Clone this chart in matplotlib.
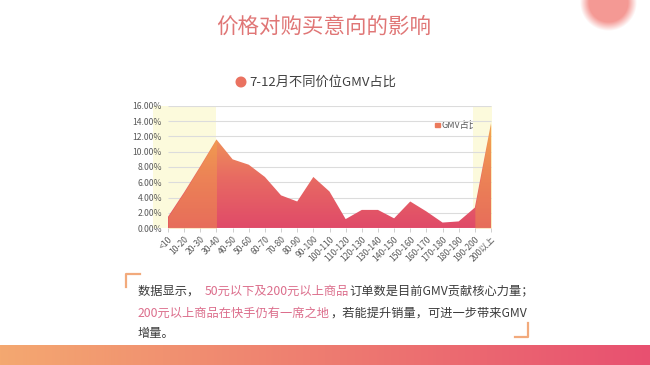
import numpy as np
import matplotlib
matplotlib.use("Agg")
import matplotlib.pyplot as plt
from matplotlib.colors import LinearSegmentedColormap
from matplotlib.patches import Polygon, Rectangle, Circle
from matplotlib.lines import Line2D

plt.rcParams['font.family'] = ['Noto Sans CJK SC', 'DejaVu Sans']

# ---------------- data ----------------
categories = ['<10', '10-20', '20-30', '30-40', '40-50', '50-60', '60-70', '70-80',
              '80-90', '90-100', '100-110', '110-120', '120-130', '130-140', '140-150',
              '150-160', '160-170', '170-180', '180-190', '190-200', '200以上']
gmv_share = [1.5, 4.7, 8.1, 11.6, 9.0, 8.3, 6.7, 4.3, 3.5, 6.7, 4.8, 1.2, 2.4, 2.4,
             1.3, 3.5, 2.2, 0.75, 0.9, 2.7, 13.7]
yticks = [0, 2, 4, 6, 8, 10, 12, 14, 16]
main_title = '价格对购买意向的影响'
chart_title = '7-12月不同价位GMV占比'
series_name = 'GMV占比'
highlight_left = (0, 3)     # category index range
highlight_right = (19, 20)

W, H = 650, 365
fig = plt.figure(figsize=(W / 100, H / 100), dpi=100)
fig.patch.set_facecolor('white')

# ---------------- background decoration (pixel coords) ----------------
bg = fig.add_axes([0, 0, 1, 1], zorder=-5)
bg.set_xlim(0, W)
bg.set_ylim(H, 0)
bg.axis('off')

img = np.ones((H, W, 4))
# bottom gradient bar
c0 = np.array([244, 168, 112]) / 255
c1 = np.array([232, 80, 112]) / 255
t = np.linspace(0, 1, W)[:, None]
bar = (1 - t) * c0 + t * c1
img[345:, :, :3] = bar[None, :, :]
# blurred circle top-right
yy, xx = np.mgrid[0:H, 0:W]
d = np.sqrt((xx - 608) ** 2 + (yy - 2) ** 2)
a = np.clip((24 - d) / 9 + 0.5, 0, 1) * 0.8
cc = np.array([242, 128, 122]) / 255
for k in range(3):
    img[:, :, k] = img[:, :, k] * (1 - a) + cc[k] * a
bg.imshow(img, extent=(0, W, H, 0), aspect='auto', interpolation='bilinear')
bg.set_xlim(0, W)
bg.set_ylim(H, 0)

# main title
bg.text(324, 27, main_title, ha='center', va='center', fontsize=15.5, color='#e07676')

# chart title with circle
bg.add_patch(Circle((241, 82), 4.8, color='#ea7260'))
bg.text(249, 82, chart_title, ha='left', va='center', fontsize=9.5, color='#404040')

# legend
bg.add_patch(Rectangle((435, 122.5), 4.5, 4.5, color='#eb7a5c'))
bg.text(441, 125, series_name, ha='left', va='center', fontsize=6.5, color='#595959')

# corner brackets
bcol = '#f2aa7c'
bg.add_line(Line2D([140, 126, 126], [274, 274, 287], color=bcol, lw=1.6))
bg.add_line(Line2D([528, 528, 515], [323, 337, 337], color=bcol, lw=1.6))

# paragraph text with coloured segments
dark = '#3c3c3c'
pink = '#dc6e8c'
renderer = fig.canvas.get_renderer()
lines = [
    (291, [('数据显示，  ', dark), ('50元以下及200元以上商品', pink),
           ('订单数是目前GMV贡献核心力量；', dark)]),
    (313, [('200元以上商品在快手仍有一席之地', pink),
           ('，若能提升销量，可进一步带来GMV', dark)]),
    (334, [('增量。', dark)]),
]
for y, segs in lines:
    x = 138
    for s, col in segs:
        tt = bg.text(x, y, s, ha='left', va='center', fontsize=8.8, color=col)
        bb = tt.get_window_extent(renderer=renderer)
        x += bb.width

# ---------------- chart ----------------
x0_px, x20_px = 168, 491
step = (x20_px - x0_px) / 20
left_px, right_px = 153, 492
bot_px, top_px = 228.3, 105.7
ax = fig.add_axes([left_px / W, 1 - bot_px / H, (right_px - left_px) / W, (bot_px - top_px) / H])
ax.set_facecolor('none')
xlo = -(x0_px - left_px) / step
xhi = 20 + (right_px - x20_px) / step

x = np.arange(len(categories))
y = np.array(gmv_share)

# highlight bands
ax.axvspan(xlo, highlight_left[1], color='#fcfadc', zorder=0, lw=0)
ax.axvspan(highlight_right[0] - 0.1, xhi, color='#fcfadc', zorder=0, lw=0)

# gridlines
ax.hlines(yticks[1:], 0, x[-1], color='#dcdcdc', lw=0.8, zorder=1)
ax.hlines(0, 0, x[-1], color='#c8c8c8', lw=0.8, zorder=4)

# gradient area
cmap = LinearSegmentedColormap.from_list('g', ['#e04a69', '#e86c62', '#f2a256'])
grad = np.linspace(0, 1, 256).reshape(-1, 1)
im = ax.imshow(grad, extent=(0, x[-1], 0, y.max()), origin='lower', cmap=cmap,
               aspect='auto', zorder=2, interpolation='bilinear')
poly = Polygon(np.column_stack([np.r_[0, x, x[-1]], np.r_[0, y, 0]]), closed=True,
               facecolor='none', edgecolor='none', transform=ax.transData)
ax.add_patch(poly)
im.set_clip_path(poly)

# orange tint in highlighted ranges
i0, i1 = highlight_left
ax.fill_between(x[i0:i1 + 1], 0, y[i0:i1 + 1], color='#f6b040', alpha=0.35, lw=0, zorder=3)
i0, i1 = highlight_right
ax.fill_between(x[i0:i1 + 1], 0, y[i0:i1 + 1], color='#f6b040', alpha=0.35, lw=0, zorder=3)

ax.set_xlim(xlo, xhi)
ax.set_ylim(0, 16)

for sp in ax.spines.values():
    sp.set_visible(False)

ax.set_yticks(yticks)
ax.set_yticklabels([f'{v:.2f}%' for v in yticks], fontsize=6.2, color='#595959')
ax.tick_params(axis='y', length=0, pad=-6.5)

ax.set_xticks(x)
ax.set_xticklabels(categories, fontsize=6.2, color='#595959', rotation=45,
                   ha='right', rotation_mode='anchor')
ax.tick_params(axis='x', length=3, color='#c8c8c8', width=0.6, pad=1.5)

fig.savefig('out.png', dpi=100)
